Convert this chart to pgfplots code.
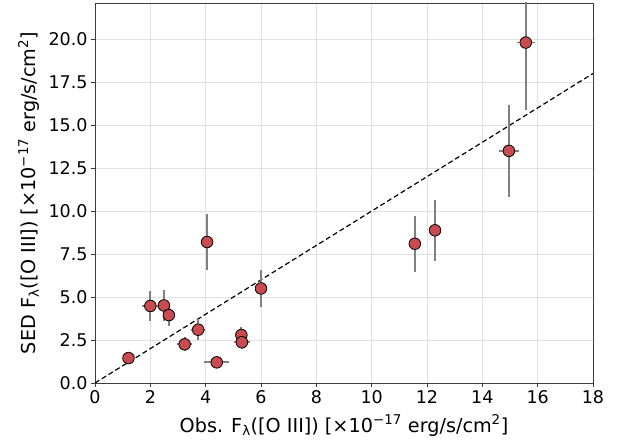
\documentclass[border=0pt]{standalone}
\usepackage{pgfplots}
\pgfplotsset{compat=1.18}
\usepackage{fontspec}
\setmainfont{DejaVu Sans}
\definecolor{ptred}{RGB}{200,75,80}
\definecolor{errgray}{RGB}{128,128,128}
\definecolor{gridgray}{RGB}{225,225,225}
\definecolor{spine}{RGB}{60,60,60}
\pgfplotstableread{
x y ex ey
1.21 1.45 0.15 0.12
2.00 4.48 0.30 0.87
2.49 4.51 0.10 0.90
2.67 3.95 0.10 0.65
3.24 2.25 0.28 0.40
3.73 3.10 0.25 0.60
4.05 8.20 0.10 1.63
4.40 1.20 0.45 0.15
5.29 2.79 0.10 0.48
5.31 2.37 0.30 0.40
6.00 5.50 0.10 1.09
11.56 8.10 0.10 1.62
12.29 8.88 0.10 1.77
14.96 13.50 0.37 2.69
15.57 19.80 0.32 3.95
}\datatable
\begin{document}
\begin{tikzpicture}
\begin{axis}[
  at={(0,0)}, anchor=south west,
  scale only axis, width=498pt, height=380pt,
  xmin=0, xmax=18, ymin=0, ymax=22.1,
  xtick={0,2,...,18},
  ytick={0,2.5,5,7.5,10,12.5,15,17.5,20},
  yticklabel style={/pgf/number format/.cd, fixed, fixed zerofill, precision=1},
  /pgf/number format/assume math mode=true,
  tick label style={font=\fontsize{17.5}{20}\selectfont},
  label style={font=\fontsize{19.2}{22}\selectfont},
  axis line style={spine, line width=0.8pt},
  tick style={spine, line width=0.8pt},
  tick align=outside, major tick length=4pt,
  xtick pos=bottom, ytick pos=left,
  grid=major, major grid style={gridgray, line width=0.6pt},
  xlabel={Obs. F\textsubscript{λ}([O III]) [×10\textsuperscript{−17} erg/s/cm\textsuperscript{2}]},
  ylabel={SED F\textsubscript{λ}([O III]) [×10\textsuperscript{−17} erg/s/cm\textsuperscript{2}]},
  xlabel style={yshift=-4pt},
  ylabel style={yshift=2pt},
  clip=true,
]
\addplot[black, dashed, line width=1.2pt, dash pattern=on 5pt off 3pt] coordinates {(0,0) (18,18)};
\addplot[draw=none, mark=none,
  error bars/.cd, x dir=both, x explicit, y dir=both, y explicit,
  error mark=none, error bar style={errgray, line width=1.8pt}]
  table[x=x, y=y, x error=ex, y error=ey] {\datatable};
\addplot[only marks, mark=*, mark size=5.8pt,
  mark options={fill=ptred, draw=black, line width=0.8pt}]
  table[x=x, y=y] {\datatable};
\end{axis}
\path[use as bounding box] (-95pt,-61pt) rectangle (529pt,383pt);
\end{tikzpicture}
\end{document}
